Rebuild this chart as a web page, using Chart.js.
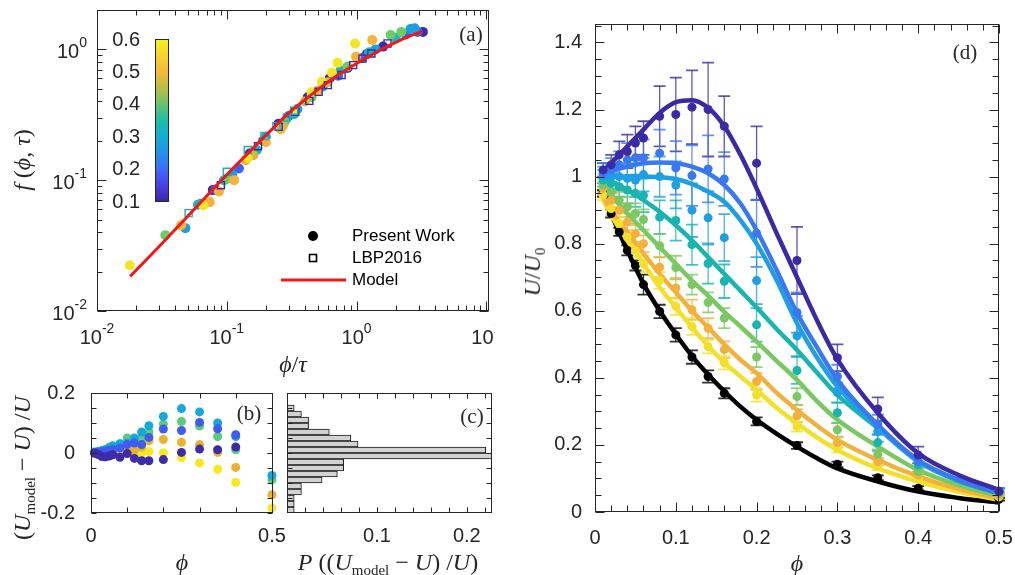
<!DOCTYPE html>
<html>
<head>
<meta charset="utf-8">
<title>Suspension velocity</title>
<script src="https://cdn.jsdelivr.net/npm/chart.js@4.4.1/dist/chart.umd.min.js"></script>
<style>
  body { margin: 0; background: #fff; }
  #fig { position: relative; width: 1015px; height: 575px; overflow: hidden; }
  #fig canvas { position: absolute; }
  .lbl { position: absolute; white-space: nowrap; color: #262626; line-height: 1;
         font-family: "Liberation Serif", "DejaVu Serif", serif; font-size: 24px;
         transform: translate(-50%, -50%); }
  .rot { transform: translate(-50%, -50%) rotate(-90deg); }
  .tag { font-size: 21px; }
  .lbl sub { font-size: 15px; font-style: normal; vertical-align: -0.35em; line-height: 0; }
</style>
</head>
<body>
<div id="fig">
  <canvas id="cA" width="495" height="350" style="left:0;top:0"></canvas>
  <canvas id="cB" width="290" height="200" style="left:0;top:375px"></canvas>
  <canvas id="cC" width="230" height="200" style="left:280px;top:375px"></canvas>
  <canvas id="cD" width="505" height="575" style="left:510px;top:0"></canvas>

  <div class="lbl rot" style="left:22px;top:160px"><i>f</i> (<i>ϕ</i>, <i>τ</i>)</div>
  <div class="lbl" style="left:293px;top:364px"><i>ϕ</i>/<i>τ</i></div>
  <div class="lbl rot" style="left:22px;top:468px">(<i>U</i><sub>model</sub> − <i>U</i>) /<i>U</i></div>
  <div class="lbl" style="left:182px;top:562px"><i>ϕ</i></div>
  <div class="lbl" style="left:388px;top:562px"><i>P</i> ((<i>U</i><sub>model</sub> − <i>U</i>) /<i>U</i>)</div>
  <div class="lbl" style="left:797px;top:563px"><i>ϕ</i></div>
  <div class="lbl rot" style="left:532px;top:272px"><i>U</i>/<i>U</i><sub>0</sub></div>

  <div class="lbl tag" style="left:471px;top:34px">(a)</div>
  <div class="lbl tag" style="left:249px;top:413px">(b)</div>
  <div class="lbl tag" style="left:472px;top:416px">(c)</div>
  <div class="lbl tag" style="left:965px;top:52px">(d)</div>
</div>

<script>
// ---- panel (d): U/U0 against volume fraction, one series per tau ----
const phi = [0.01, 0.02, 0.03, 0.04, 0.05, 0.06, 0.08, 0.1, 0.12, 0.14, 0.16, 0.2, 0.25, 0.3, 0.35, 0.4, 0.5];
const phiModel = [0.01, 0.02, 0.04, 0.06, 0.08, 0.1, 0.12, 0.14, 0.16, 0.18, 0.2, 0.225, 0.25, 0.275, 0.3, 0.35, 0.4, 0.45, 0.5];

const uIndigo = [1.02, 1.035, 1.065, 1.075, 1.10, 1.115, 1.18, 1.185, 1.207, 1.2, 1.15, 1.04, 0.75, 0.46, 0.307, 0.17, 0.062];
const errIndigo = [0.02, 0.03, 0.04, 0.05, 0.05, 0.05, 0.09, 0.11, 0.11, 0.14, 0.09, 0.11, 0.10, 0.04, 0.035, 0.025, 0.01];
const modelIndigo = [1.015, 1.04, 1.09, 1.14, 1.19, 1.222, 1.228, 1.205, 1.15, 1.065, 0.965, 0.83, 0.70, 0.57, 0.455, 0.295, 0.175, 0.11, 0.066];

const uBlue = [1.01, 1.02, 1.035, 1.05, 1.056, 1.056, 1.07, 1.026, 1.003, 1.023, 0.993, 0.831, 0.595, 0.404, 0.26, 0.15, 0.06];
const errBlue = [0.03, 0.035, 0.04, 0.05, 0.05, 0.055, 0.07, 0.08, 0.09, 0.1, 0.08, 0.1, 0.06, 0.035, 0.03, 0.02, 0.01];
const modelBlue = [1.0, 1.015, 1.03, 1.04, 1.042, 1.04, 1.03, 1.01, 0.975, 0.92, 0.84, 0.72, 0.593, 0.49, 0.394, 0.26, 0.155, 0.095, 0.056];

const uSky = [1.0, 1.0, 1.0, 0.995, 0.99, 1.006, 1.0, 0.975, 0.9, 0.877, 0.818, 0.69, 0.525, 0.356, 0.24, 0.15, 0.06];
const errSky = [0.03, 0.035, 0.04, 0.04, 0.05, 0.05, 0.06, 0.07, 0.08, 0.08, 0.07, 0.07, 0.06, 0.03, 0.03, 0.02, 0.01];
const modelSky = [1.0, 1.0, 1.0, 1.0, 0.998, 0.993, 0.978, 0.955, 0.925, 0.87, 0.80, 0.69, 0.563, 0.46, 0.374, 0.255, 0.152, 0.095, 0.056];

const uTeal = [0.99, 0.98, 0.97, 0.96, 0.95, 0.944, 0.879, 0.869, 0.797, 0.741, 0.688, 0.558, 0.422, 0.296, 0.207, 0.14, 0.062];
const errTeal = [0.03, 0.03, 0.03, 0.04, 0.04, 0.05, 0.05, 0.06, 0.06, 0.06, 0.05, 0.05, 0.04, 0.03, 0.025, 0.02, 0.01];
const modelTeal = [0.995, 0.985, 0.96, 0.93, 0.895, 0.855, 0.81, 0.76, 0.71, 0.66, 0.61, 0.545, 0.483, 0.415, 0.349, 0.25, 0.15, 0.092, 0.056];

const uGreen = [0.975, 0.955, 0.93, 0.91, 0.89, 0.872, 0.794, 0.729, 0.678, 0.625, 0.578, 0.462, 0.344, 0.245, 0.172, 0.12, 0.055];
const errGreen = [0.02, 0.02, 0.025, 0.03, 0.03, 0.03, 0.035, 0.035, 0.03, 0.03, 0.03, 0.03, 0.025, 0.02, 0.015, 0.01, 0.006];
const modelGreen = [0.975, 0.945, 0.89, 0.84, 0.79, 0.74, 0.69, 0.645, 0.597, 0.553, 0.508, 0.45, 0.394, 0.33, 0.275, 0.195, 0.125, 0.08, 0.048];

const uOrange = [0.965, 0.93, 0.9, 0.865, 0.83, 0.8, 0.73, 0.668, 0.603, 0.548, 0.484, 0.389, 0.287, 0.207, 0.15, 0.11, 0.05];
const errOrange = [0.02, 0.02, 0.02, 0.025, 0.025, 0.025, 0.03, 0.03, 0.03, 0.03, 0.025, 0.025, 0.02, 0.015, 0.012, 0.01, 0.006];
const modelOrange = [0.94, 0.9, 0.835, 0.77, 0.71, 0.655, 0.6, 0.55, 0.5, 0.454, 0.414, 0.355, 0.304, 0.257, 0.215, 0.155, 0.106, 0.068, 0.041];

const uYellow = [0.945, 0.905, 0.86, 0.82, 0.78, 0.74, 0.69, 0.613, 0.553, 0.493, 0.445, 0.349, 0.255, 0.19, 0.135, 0.1, 0.045];
const errYellow = [0.015, 0.02, 0.02, 0.02, 0.02, 0.025, 0.025, 0.025, 0.025, 0.02, 0.02, 0.02, 0.015, 0.012, 0.01, 0.008, 0.005];
const modelYellow = [0.93, 0.885, 0.81, 0.74, 0.67, 0.61, 0.55, 0.495, 0.445, 0.404, 0.364, 0.31, 0.264, 0.222, 0.185, 0.13, 0.091, 0.06, 0.036];

const uBlack = [0.95, 0.89, 0.835, 0.78, 0.735, 0.678, 0.598, 0.528, 0.462, 0.404, 0.354, 0.27, 0.198, 0.142, 0.102, 0.071, 0.038];
const errBlack = [0.01, 0.012, 0.012, 0.015, 0.015, 0.03, 0.02, 0.02, 0.02, 0.018, 0.015, 0.012, 0.01, 0.008, 0.007, 0.006, 0.004];
const modelBlack = [0.96, 0.89, 0.78, 0.68, 0.6, 0.53, 0.465, 0.41, 0.36, 0.314, 0.275, 0.233, 0.195, 0.16, 0.13, 0.091, 0.061, 0.042, 0.028];

const dXTicks = [0, 0.1, 0.2, 0.3, 0.4, 0.5];
const dYTicks = [0, 0.2, 0.4, 0.6, 0.8, 1, 1.2, 1.4];

// ---- panel (b): relative model error, same phi columns ----
const resIndigo = [0.0, -0.005, -0.012, -0.013, -0.01, -0.006, -0.014, -0.002, -0.018, -0.026, -0.026, -0.022, 0.002, 0.013, 0.011, 0.02, null];
const resBlue = [0.0, 0.002, 0.004, 0.006, 0.008, 0.012, 0.017, 0.028, 0.033, 0.028, 0.052, 0.08, 0.075, 0.102, 0.081, 0.061, null];
const resCyan = [0.003, 0.005, 0.008, 0.012, 0.018, 0.024, 0.031, 0.033, 0.05, 0.07, 0.091, 0.122, 0.148, 0.137, 0.1, 0.055, -0.075];
const resGreen = [0.002, 0.004, 0.007, 0.01, 0.015, 0.02, 0.03, 0.05, 0.045, 0.05, 0.07, 0.097, 0.105, 0.09, 0.055, 0.011, -0.089];
const resOrange = [0.0, -0.002, -0.004, -0.005, -0.004, -0.003, 0.0, 0.005, 0.01, 0.02, 0.041, 0.045, 0.036, 0.028, 0.002, -0.048, -0.139];
const resYellow = [0.0, -0.002, -0.004, -0.005, -0.005, -0.003, 0.0, 0.0, 0.005, 0.0, 0.005, 0.0, -0.015, -0.033, -0.054, -0.098, -0.183];
const bXTicks = [0, 0.5];
const bYTicks = [-0.2, 0, 0.2];

// ---- panel (c): histogram of the relative error (bin centres, probability) ----
const histCenters = [0.15, 0.13, 0.11, 0.09, 0.07, 0.05, 0.03, 0.01, -0.01, -0.03, -0.05, -0.07, -0.09, -0.11, -0.13, -0.15, -0.17, -0.19];
const histProb = [0.008, 0.016, 0.024, 0.024, 0.047, 0.071, 0.079, 0.221, 0.228, 0.063, 0.063, 0.056, 0.039, 0.016, 0.016, 0.008, 0.008, 0.008];
const cXTicks = [0.1, 0.2];

// ---- panel (a): collapse f(phi, tau) against phi/tau ----
const aIndigo = [[0.078, 0.084], [0.15, 0.16], [0.25, 0.27], [0.42, 0.43], [0.62, 0.6], [0.85, 0.72], [1.2, 0.92], [1.6, 1.05], [3.24, 1.36]];
const aBlue = [[0.082, 0.085], [0.124, 0.123], [0.19, 0.2], [0.3, 0.31], [0.45, 0.45], [0.72, 0.63], [1.1, 0.86], [2.4, 1.3], [2.95, 1.36]];
const aCyan = [[0.048, 0.043], [0.063, 0.066], [0.11, 0.11], [0.2, 0.215], [0.35, 0.35], [0.55, 0.52], [1.4, 1.0], [2.6, 1.43], [2.8, 1.45]];
const aTeal = [[0.06, 0.065], [0.095, 0.1], [0.17, 0.17], [0.33, 0.32], [0.75, 0.69], [1.25, 0.95], [2.0, 1.22]];
const aGreen = [[0.0336, 0.038], [0.067, 0.066], [0.1, 0.102], [0.28, 0.28], [0.45, 0.43], [0.85, 0.74], [1.83, 1.29], [2.21, 1.36]];
const aOchre = [[0.16, 0.155], [0.27, 0.26], [0.4, 0.4], [0.6, 0.56]];
const aOrange = [[0.0445, 0.0453], [0.074, 0.068], [0.087, 0.082], [0.114, 0.1], [0.14, 0.142], [0.2, 0.195], [0.26, 0.245], [0.5, 0.48], [0.99, 0.88], [1.32, 1.18]];
const aYellow = [[0.0179, 0.0224], [0.066, 0.064], [0.145, 0.148], [0.33, 0.34], [0.45, 0.47], [0.539, 0.565], [0.645, 0.662], [0.713, 0.79], [0.973, 1.11]];
const lbpCyan = [[0.0508, 0.056], [0.1, 0.116], [0.145, 0.17], [0.195, 0.218], [0.241, 0.259], [0.29, 0.302], [0.33, 0.34]];
const lbpIndigo = [[0.09, 0.0916], [0.174, 0.182], [0.251, 0.256], [0.337, 0.333], [0.432, 0.404], [0.51, 0.474], [0.6, 0.533], [0.766, 0.636], [0.94, 0.758], [1.11, 0.85], [1.3, 0.93], [1.73, 1.11]];
const modelA = [[0.018, 0.0184], [0.03, 0.031], [0.05, 0.053], [0.1, 0.11], [0.2, 0.22], [0.3, 0.325], [0.5, 0.49], [0.7, 0.625], [1.0, 0.78], [1.5, 0.98], [2.0, 1.13], [2.5, 1.25], [3.2, 1.37]];
const aXTicks = [0.01, 0.1, 1, 10];
const aYTicks = [0.01, 0.1, 1];
const cbTicks = [0.1, 0.2, 0.3, 0.4, 0.5, 0.6];

const parula = ['#3e26a8', '#4841e4', '#3a6ef7', '#2393e8', '#12afd0', '#1ebea7', '#6cc46e', '#bcbd44', '#f5b93d', '#f6d52e', '#f5f21c'];

// ---------------------------------------------------------------
const SANS = "'Liberation Sans', Arial, sans-serif";
Chart.defaults.font.family = SANS;
Chart.defaults.font.size = 20;
Chart.defaults.color = '#262626';
Chart.defaults.animation = false;
Chart.defaults.plugins.legend.display = false;
Chart.defaults.plugins.tooltip.enabled = false;

const pts = (xs, ys) => xs.map((x, i) => ({ x, y: ys[i] }));
const pairs = list => list.map(([x, y]) => ({ x, y }));

function steps(from, to, step) {
  const out = [];
  for (let v = from; v <= to + 1e-9; v += step) out.push(+v.toFixed(4));
  return out;
}
function logMinor(lo, hi) {
  const out = [];
  for (let d = lo; d < hi; d *= 10)
    for (let k = 2; k <= 9; k++) if (k * d < hi) out.push(k * d);
  return out;
}
function frameTicks(major, minor, majorLen, minorLen) {
  return major.map(v => [v, majorLen]).concat(minor.map(v => [v, minorLen]));
}

// axis with a fixed thickness so the plot box sits at a known place
function axis(o) {
  return {
    type: o.type || 'linear',
    min: o.min,
    max: o.max,
    display: o.display !== false,
    grid: { display: false, drawTicks: false },
    border: { display: false },
    ticks: { display: !o.hideLabels, padding: o.padding || 0, autoSkip: false, maxRotation: 0, minRotation: 0,
             callback: v => String(v) },
    afterBuildTicks: s => { s.ticks = (o.ticks || []).map(v => ({ value: v })); },
    afterFit: s => {
      if (s.isHorizontal()) s.height = o.size || 0; else s.width = o.size || 0;
      s.paddingLeft = s.paddingRight = s.paddingTop = s.paddingBottom = 0;
    }
  };
}

// box around the axes with inward ticks on all four sides
const framePlugin = {
  id: 'frame',
  afterDraw(chart, args, opts) {
    const { ctx, chartArea: a, scales } = chart;
    const L = Math.round(a.left) + 0.5, R = Math.round(a.right) - 0.5;
    const T = Math.round(a.top) + 0.5, B = Math.round(a.bottom) - 0.5;
    ctx.save();
    ctx.strokeStyle = '#262626';
    ctx.lineWidth = 1;
    ctx.beginPath();
    (opts.x || []).forEach(([v, len]) => {
      const p = Math.round(scales.x.getPixelForValue(v)) + 0.5;
      if (p < L - 1 || p > R + 1) return;
      ctx.moveTo(p, B); ctx.lineTo(p, B - len);
      ctx.moveTo(p, T); ctx.lineTo(p, T + len);
    });
    (opts.y || []).forEach(([v, len]) => {
      const p = Math.round(scales.y.getPixelForValue(v)) + 0.5;
      if (p < T - 1 || p > B + 1) return;
      ctx.moveTo(L, p); ctx.lineTo(L + len, p);
      ctx.moveTo(R, p); ctx.lineTo(R - len, p);
    });
    ctx.stroke();
    ctx.strokeRect(L, T, R - L, B - T);
    ctx.restore();
  }
};

// "10" with a raised exponent for the log axes
const powerLabels = {
  id: 'powerLabels',
  afterDraw(chart) {
    const { ctx, chartArea: a, scales } = chart;
    const big = '20px ' + SANS, small = '14px ' + SANS;
    const parts = v => {
      const e = String(Math.round(Math.log10(v)));
      ctx.font = big; const wb = ctx.measureText('10').width;
      ctx.font = small; const ws = ctx.measureText(e).width;
      return { e, wb, ws };
    };
    const put = (left, y, p) => {
      ctx.font = big; ctx.fillText('10', left, y + 1);
      ctx.font = small; ctx.fillText(p.e, left + p.wb, y - 8);
    };
    ctx.save();
    ctx.fillStyle = '#262626';
    ctx.textAlign = 'left';
    ctx.textBaseline = 'middle';
    aXTicks.forEach(v => {
      const p = parts(v);
      put(scales.x.getPixelForValue(v) - (p.wb + p.ws) / 2, a.bottom + 26, p);
    });
    aYTicks.forEach(v => {
      const p = parts(v);
      put(a.left - 10 - p.wb - p.ws, scales.y.getPixelForValue(v) + 2, p);
    });
    ctx.restore();
  }
};

// vertical error bars with caps, drawn under the markers
const errorBarPlugin = {
  id: 'errorBars',
  beforeDatasetsDraw(chart) {
    const { ctx, scales: { y } } = chart;
    ctx.save();
    chart.data.datasets.forEach((ds, i) => {
      if (!ds.errors) return;
      const meta = chart.getDatasetMeta(i);
      ctx.strokeStyle = ds.errorColor;
      meta.data.forEach((pt, j) => {
        const v = ds.data[j].y, e = ds.errors[j];
        const top = y.getPixelForValue(v + e), bot = y.getPixelForValue(v - e);
        ctx.lineWidth = 1.3;
        ctx.beginPath();
        ctx.moveTo(pt.x, top); ctx.lineTo(pt.x, bot);
        ctx.stroke();
        ctx.lineWidth = 1.8;
        ctx.beginPath();
        ctx.moveTo(pt.x - 6, top); ctx.lineTo(pt.x + 6, top);
        ctx.moveTo(pt.x - 6, bot); ctx.lineTo(pt.x + 6, bot);
        ctx.stroke();
      });
    });
    ctx.restore();
  }
};

// colour bar and key for panel (a)
const panelAExtras = {
  id: 'panelAExtras',
  afterDraw(chart) {
    const { ctx, chartArea: a } = chart;
    const x0 = a.left + 58, y0 = a.top + 29, w = 13, h = 162;
    ctx.save();
    const g = ctx.createLinearGradient(0, y0 + h, 0, y0);
    parula.forEach((c, i) => g.addColorStop(i / (parula.length - 1), c));
    ctx.fillStyle = g;
    ctx.fillRect(x0, y0, w, h);
    ctx.strokeStyle = '#262626';
    ctx.lineWidth = 1;
    ctx.strokeRect(x0 + 0.5, y0 + 0.5, w, h);
    ctx.fillStyle = '#262626';
    ctx.font = '20px ' + SANS;
    ctx.textAlign = 'right';
    ctx.textBaseline = 'middle';
    const lo = cbTicks[0], hi = cbTicks[cbTicks.length - 1];
    cbTicks.forEach(v => ctx.fillText(v.toFixed(1), x0 - 15, y0 + h - (v - lo) / (hi - lo) * h + 1));

    // key
    const kx = 313, tx = 352;
    ctx.fillStyle = '#000';
    ctx.beginPath(); ctx.arc(kx, 236, 5, 0, Math.PI * 2); ctx.fill();
    ctx.strokeStyle = '#000'; ctx.lineWidth = 1.6;
    ctx.strokeRect(kx - 3.5, 258 - 3.5, 7, 7);
    ctx.strokeStyle = '#f21818'; ctx.lineWidth = 3;
    ctx.beginPath(); ctx.moveTo(281, 280); ctx.lineTo(346, 280); ctx.stroke();
    ctx.font = '17px ' + SANS;
    ctx.textAlign = 'left';
    ctx.fillText('Present Work', tx, 236);
    ctx.fillText('LBP2016', tx, 258);
    ctx.fillText('Model', tx, 280);
    ctx.restore();
  }
};

// ---- (a) ----
const dot = (list, color) => ({ data: pairs(list), backgroundColor: color, pointRadius: 5, pointBorderWidth: 0, order: 2 });
const square = (list, color) => ({ data: pairs(list), pointStyle: 'rect', pointRadius: 5, pointBorderWidth: 1.4,
  borderColor: color, backgroundColor: 'rgba(0,0,0,0)', order: 1 });

new Chart(document.getElementById('cA'), {
  type: 'scatter',
  data: {
    datasets: [
      { data: pairs(modelA), showLine: true, borderColor: '#f21818', borderWidth: 3, pointRadius: 0,
        cubicInterpolationMode: 'monotone', order: 0 },
      square(lbpCyan, '#15b3c4'),
      square(lbpIndigo, '#3e26a8'),
      dot(aYellow, '#f5e525'),
      dot(aOrange, '#f7b23a'),
      dot(aOchre, '#d4b83a'),
      dot(aGreen, '#6ccb6a'),
      dot(aTeal, '#14b9c0'),
      dot(aCyan, '#1a9fe0'),
      dot(aBlue, '#3a64ef'),
      dot(aIndigo, '#3d2ba8')
    ]
  },
  options: {
    responsive: false,
    layout: { padding: { left: 0, top: 10, right: 4, bottom: 0 } },
    scales: {
      x: axis({ type: 'logarithmic', min: 0.01, max: 10.4, size: 39, ticks: aXTicks, hideLabels: true }),
      y: axis({ type: 'logarithmic', min: 0.01, max: 2, size: 97, ticks: aYTicks, hideLabels: true })
    },
    plugins: {
      frame: {
        x: frameTicks(aXTicks, logMinor(0.01, 10.4), 9, 5),
        y: frameTicks(aYTicks, logMinor(0.01, 2), 9, 5)
      }
    }
  },
  plugins: [framePlugin, powerLabels, panelAExtras]
});

// ---- (b) ----
const resDot = (ys, color) => ({ data: pts(phi, ys), backgroundColor: color, pointRadius: 4.5, pointBorderWidth: 0, clip: false });
new Chart(document.getElementById('cB'), {
  type: 'scatter',
  data: {
    datasets: [
      resDot(resIndigo, '#3d2ba8'),
      resDot(resBlue, '#3f5cf0'),
      resDot(resCyan, '#16a8d8'),
      resDot(resGreen, '#5dcb7c'),
      resDot(resOrange, '#eab232'),
      resDot(resYellow, '#f5ea1e')
    ]
  },
  options: {
    responsive: false,
    layout: { padding: { left: 0, top: 18, right: 17, bottom: 0 } },
    scales: {
      x: axis({ min: 0, max: 0.503, size: 62, ticks: bXTicks, padding: 11 }),
      y: axis({ min: -0.2, max: 0.2, size: 91, ticks: bYTicks, padding: 16 })
    },
    plugins: {
      frame: {
        x: frameTicks(bXTicks, steps(0.1, 0.4, 0.1), 5, 5),
        y: frameTicks(bYTicks, steps(-0.15, 0.15, 0.05), 5, 5)
      }
    }
  },
  plugins: [framePlugin]
});

// ---- (c) ----
new Chart(document.getElementById('cC'), {
  type: 'bar',
  data: {
    datasets: [{
      data: histCenters.map((c, i) => ({ y: c, x: histProb[i] })),
      backgroundColor: '#d2d2d2',
      borderColor: '#1a1a1a',
      borderWidth: 1,
      barPercentage: 1,
      categoryPercentage: 1
    }]
  },
  options: {
    responsive: false,
    indexAxis: 'y',
    layout: { padding: { left: 7, top: 18, right: 18, bottom: 0 } },
    scales: {
      x: axis({ min: 0, max: 0.228, size: 62, ticks: cXTicks, padding: 11 }),
      y: axis({ min: -0.2, max: 0.2, display: false })
    },
    plugins: {
      frame: {
        x: frameTicks(cXTicks, steps(0.02, 0.22, 0.02), 5, 5),
        y: frameTicks([], steps(-0.15, 0.15, 0.05), 5, 5)
      }
    }
  },
  plugins: [framePlugin]
});

// ---- (d) ----
const dSeries = [
  { color: '#3b2aa5', u: uIndigo, err: errIndigo, model: modelIndigo },
  { color: '#3a78f2', u: uBlue, err: errBlue, model: modelBlue },
  { color: '#1e9fe2', u: uSky, err: errSky, model: modelSky },
  { color: '#17b4b0', u: uTeal, err: errTeal, model: modelTeal },
  { color: '#79c862', u: uGreen, err: errGreen, model: modelGreen },
  { color: '#f2b13c', u: uOrange, err: errOrange, model: modelOrange },
  { color: '#f2e02a', u: uYellow, err: errYellow, model: modelYellow },
  { color: '#000000', u: uBlack, err: errBlack, model: modelBlack }
];
const dDatasets = [];
dSeries.forEach(s => {
  dDatasets.push({ data: pts(phi, s.u), errors: s.err, errorColor: s.color + 'cc', backgroundColor: s.color,
    pointRadius: 4.5, pointBorderWidth: 0, clip: false, order: 0 });
  dDatasets.push({ data: pts(phiModel, s.model), showLine: true, borderColor: s.color, borderWidth: 4.5,
    pointRadius: 0, cubicInterpolationMode: 'monotone', order: 1 });
});

new Chart(document.getElementById('cD'), {
  type: 'scatter',
  data: { datasets: dDatasets },
  options: {
    responsive: false,
    layout: { padding: { left: 0, top: 24, right: 16, bottom: 0 } },
    scales: {
      x: axis({ min: 0, max: 0.5, size: 63, ticks: dXTicks, padding: 14 }),
      y: axis({ min: 0, max: 1.455, size: 85, ticks: dYTicks, padding: 13 })
    },
    plugins: {
      frame: {
        x: frameTicks(dXTicks, steps(0.02, 0.48, 0.02), 9, 6),
        y: frameTicks(dYTicks, steps(0.05, 1.45, 0.05), 9, 6)
      }
    }
  },
  plugins: [errorBarPlugin, framePlugin]
});
</script>
</body>
</html>
